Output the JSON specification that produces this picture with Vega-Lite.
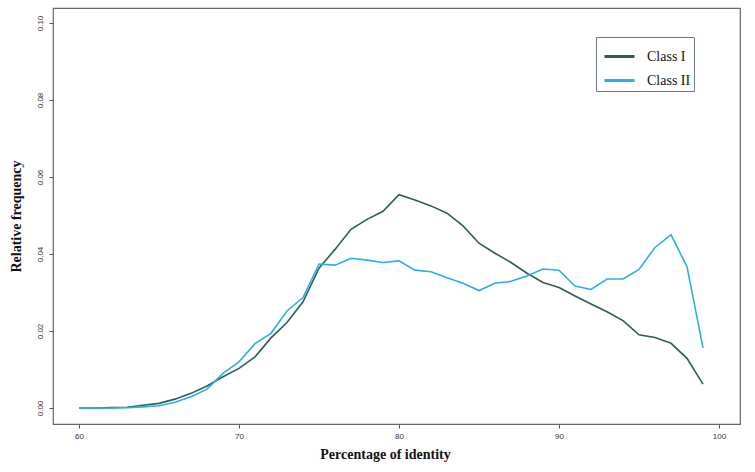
{
  "$schema": "https://vega.github.io/schema/vega-lite/v6.json",
  "width": 687,
  "height": 416,
  "autosize": {"type": "none"},
  "padding": {"left": 53, "top": 8, "right": 15, "bottom": 48},
  "background": "white",
  "config": {
    "view": {"stroke": "#666666", "strokeWidth": 1.2},
    "axis": {"grid": false, "domain": false, "tickColor": "#555555", "tickSize": 4, "labelColor": "#333333", "labelFont": "Liberation Sans", "labelFontSize": 8, "titleFont": "Liberation Serif", "titleFontSize": 14, "titleFontWeight": "bold", "titleColor": "#111111"}
  },
  "data": {"values": [
    {"x":60,"cls":"Class I","y":0},{"x":61,"cls":"Class I","y":0},{"x":62,"cls":"Class I","y":0.0001},{"x":63,"cls":"Class I","y":0.0002},{"x":64,"cls":"Class I","y":0.0007},{"x":65,"cls":"Class I","y":0.0012},{"x":66,"cls":"Class I","y":0.0023},{"x":67,"cls":"Class I","y":0.0038},{"x":68,"cls":"Class I","y":0.0057},{"x":69,"cls":"Class I","y":0.0081},{"x":70,"cls":"Class I","y":0.0103},{"x":71,"cls":"Class I","y":0.0133},{"x":72,"cls":"Class I","y":0.0182},{"x":73,"cls":"Class I","y":0.0222},{"x":74,"cls":"Class I","y":0.0276},{"x":75,"cls":"Class I","y":0.0363},{"x":76,"cls":"Class I","y":0.0412},{"x":77,"cls":"Class I","y":0.0464},{"x":78,"cls":"Class I","y":0.049},{"x":79,"cls":"Class I","y":0.0511},{"x":80,"cls":"Class I","y":0.0554},{"x":81,"cls":"Class I","y":0.054},{"x":82,"cls":"Class I","y":0.0525},{"x":83,"cls":"Class I","y":0.0506},{"x":84,"cls":"Class I","y":0.0473},{"x":85,"cls":"Class I","y":0.0428},{"x":86,"cls":"Class I","y":0.0402},{"x":87,"cls":"Class I","y":0.0378},{"x":88,"cls":"Class I","y":0.035},{"x":89,"cls":"Class I","y":0.0326},{"x":90,"cls":"Class I","y":0.0313},{"x":91,"cls":"Class I","y":0.0291},{"x":92,"cls":"Class I","y":0.027},{"x":93,"cls":"Class I","y":0.025},{"x":94,"cls":"Class I","y":0.0227},{"x":95,"cls":"Class I","y":0.019},{"x":96,"cls":"Class I","y":0.0183},{"x":97,"cls":"Class I","y":0.0168},{"x":98,"cls":"Class I","y":0.0129},{"x":99,"cls":"Class I","y":0.0062},
    {"x":60,"cls":"Class II","y":0},{"x":61,"cls":"Class II","y":0},{"x":62,"cls":"Class II","y":0},{"x":63,"cls":"Class II","y":0.0001},{"x":64,"cls":"Class II","y":0.0003},{"x":65,"cls":"Class II","y":0.0006},{"x":66,"cls":"Class II","y":0.0015},{"x":67,"cls":"Class II","y":0.0029},{"x":68,"cls":"Class II","y":0.0049},{"x":69,"cls":"Class II","y":0.009},{"x":70,"cls":"Class II","y":0.012},{"x":71,"cls":"Class II","y":0.0167},{"x":72,"cls":"Class II","y":0.0194},{"x":73,"cls":"Class II","y":0.0252},{"x":74,"cls":"Class II","y":0.0287},{"x":75,"cls":"Class II","y":0.0374},{"x":76,"cls":"Class II","y":0.0371},{"x":77,"cls":"Class II","y":0.0389},{"x":78,"cls":"Class II","y":0.0384},{"x":79,"cls":"Class II","y":0.0378},{"x":80,"cls":"Class II","y":0.0382},{"x":81,"cls":"Class II","y":0.0358},{"x":82,"cls":"Class II","y":0.0354},{"x":83,"cls":"Class II","y":0.0338},{"x":84,"cls":"Class II","y":0.0324},{"x":85,"cls":"Class II","y":0.0305},{"x":86,"cls":"Class II","y":0.0324},{"x":87,"cls":"Class II","y":0.0329},{"x":88,"cls":"Class II","y":0.0343},{"x":89,"cls":"Class II","y":0.0361},{"x":90,"cls":"Class II","y":0.0358},{"x":91,"cls":"Class II","y":0.0317},{"x":92,"cls":"Class II","y":0.0308},{"x":93,"cls":"Class II","y":0.0335},{"x":94,"cls":"Class II","y":0.0335},{"x":95,"cls":"Class II","y":0.036},{"x":96,"cls":"Class II","y":0.0417},{"x":97,"cls":"Class II","y":0.045},{"x":98,"cls":"Class II","y":0.0367},{"x":99,"cls":"Class II","y":0.0156}
  ]},
  "mark": {"type": "line", "strokeWidth": 1.6},
  "encoding": {
    "x": {"field": "x", "type": "quantitative", "scale": {"domain": [58.375, 101.3125], "nice": false, "zero": false},
      "axis": {"values": [60, 70, 80, 90, 100], "title": "Percentage of identity", "labelPadding": 4, "titleX": 332, "titleY": 30, "titleBaseline": "middle"}},
    "y": {"field": "y", "type": "quantitative", "scale": {"domain": [-0.00416, 0.1039], "nice": false, "zero": false},
      "axis": {"values": [0, 0.02, 0.04, 0.06, 0.08, 0.1], "format": ".2f", "title": "Relative frequency", "labelAngle": 270, "labelAlign": "center", "labelBaseline": "bottom", "labelPadding": 5, "titleX": -37, "titleY": 208, "titleAngle": 270, "titleAlign": "center", "titleBaseline": "middle"}},
    "color": {"field": "cls", "type": "nominal", "scale": {"domain": ["Class I", "Class II"], "range": ["#2c5d5b", "#2aaee8"]},
      "legend": {"title": null, "orient": "none", "legendX": 543, "legendY": 29, "symbolType": "stroke", "symbolSize": 900, "symbolStrokeWidth": 3, "symbolOffset": 4, "labelFont": "Liberation Serif", "labelFontSize": 14, "labelColor": "#111111", "labelOffset": 11, "rowPadding": -8, "padding": 3, "strokeColor": "#6b7890", "fillColor": "white"}}
  }
}
